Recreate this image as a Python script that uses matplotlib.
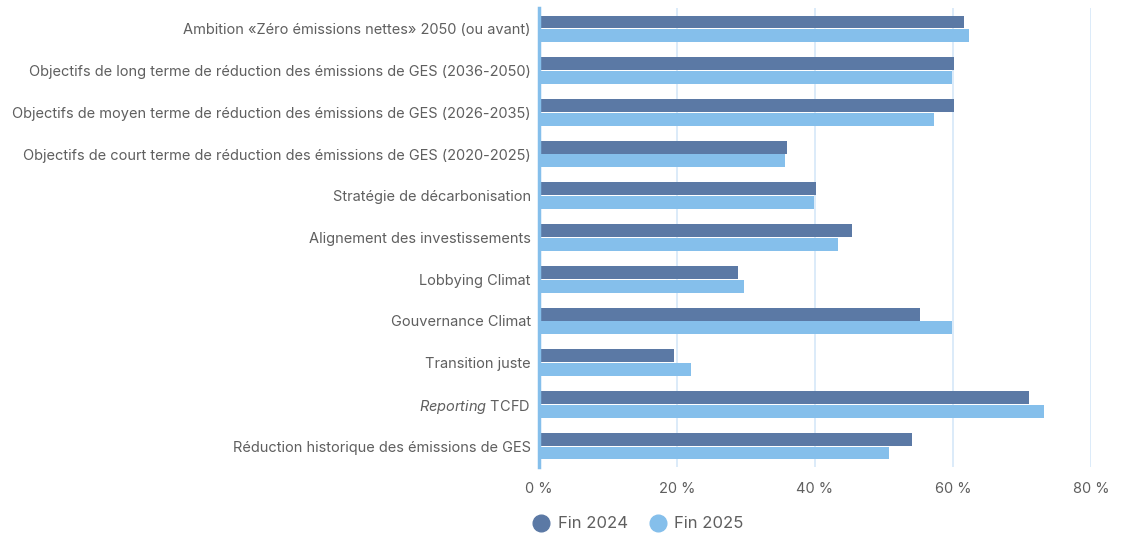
import matplotlib
matplotlib.use("Agg")
from matplotlib import pyplot as plt
from matplotlib.lines import Line2D
import numpy as np

plt.rcParams['font.family'] = ['Inter', 'DejaVu Sans']
plt.rcParams['mathtext.fontset'] = 'custom'
plt.rcParams['mathtext.it'] = 'Inter:italic'
plt.rcParams['mathtext.rm'] = 'Inter'

# Share of companies meeting each criterion (%)
categories = [
    "Ambition «Zéro émissions nettes» 2050 (ou avant)",
    "Objectifs de long terme de réduction des émissions de GES (2036-2050)",
    "Objectifs de moyen terme de réduction des émissions de GES (2026-2035)",
    "Objectifs de court terme de réduction des émissions de GES (2020-2025)",
    "Stratégie de décarbonisation",
    "Alignement des investissements",
    "Lobbying Climat",
    "Gouvernance Climat",
    "Transition juste",
    "$\\it{Reporting}$ TCFD",
    "Réduction historique des émissions de GES",
]
fin_2024 = [61.6, 60.2, 60.1, 35.9, 40.1, 45.3, 28.9, 55.2, 19.5, 71.0, 54.0]
fin_2025 = [62.3, 59.9, 57.3, 35.6, 39.8, 43.3, 29.7, 59.8, 22.0, 73.2, 50.7]
xticks = [0, 20, 40, 60, 80]

dark = '#5b79a5'
light = '#85bfeb'
text_color = '#5f5f5f'

fig = plt.figure(figsize=(11.25, 5.34), dpi=100)
ax = fig.add_axes([539 / 1125, 1 - 467 / 534, (1091 - 539) / 1125, (467 - 8) / 534])

y = np.arange(len(categories))
h = 0.31
ax.barh(y - h / 2 - 0.01, fin_2024, height=h, color=dark, zorder=3)
ax.barh(y + h / 2 + 0.01, fin_2025, height=h, color=light, zorder=3)

ax.set_xlim(0, 80)
ax.set_ylim(len(categories) - 0.5, -0.5)

ax.set_yticks(y)
ax.set_yticklabels(categories, fontsize=10.5, color=text_color)
ax.set_xticks(xticks)
ax.set_xticklabels([f"{t} %" for t in xticks], fontsize=10.5, color=text_color)
ax.tick_params(axis='both', length=0)
ax.tick_params(axis='y', pad=6)
ax.tick_params(axis='x', pad=11)

for s in ['top', 'right', 'bottom']:
    ax.spines[s].set_visible(False)
ax.spines['left'].set_color('#85bfeb')
ax.spines['left'].set_linewidth(2.5)
ax.spines['left'].set_zorder(4)

for t in xticks[1:]:
    ax.axvline(t, color='#d6e8f8', linewidth=1.2, zorder=1)

handles = [
    Line2D([], [], marker='o', linestyle='', markersize=12, color=dark),
    Line2D([], [], marker='o', linestyle='', markersize=12, color=light),
]
leg = fig.legend(handles, ["Fin 2024", "Fin 2025"], loc='center',
                 bbox_to_anchor=(634 / 1125, 1 - 524 / 534), ncol=2, frameon=False,
                 fontsize=12, handletextpad=0.0, columnspacing=0.8)
for txt in leg.get_texts():
    txt.set_color(text_color)

fig.savefig('out.png', dpi=100)
